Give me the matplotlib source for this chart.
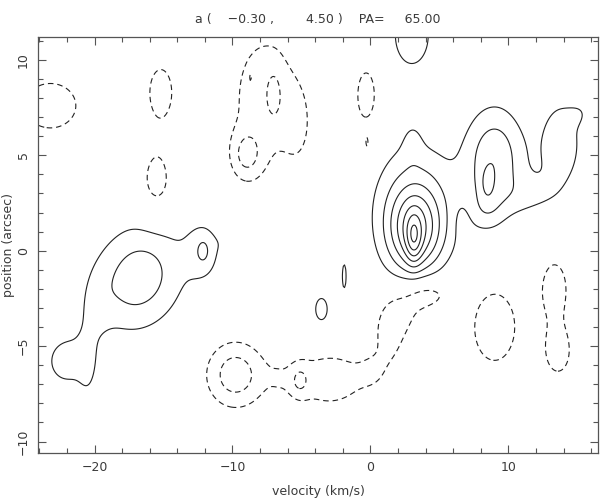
import numpy as np
import matplotlib
matplotlib.use("Agg")
import matplotlib.pyplot as plt
from matplotlib.ticker import MultipleLocator

# emission components of the position-velocity map (velocity km/s, position arcsec)
blob_v = [3.15, 3.2, 3.3, 3.05,
          9.0, 8.45, 8.4, 13.8, 15.0, 11.6, 6.6,
          3.0, -3.55, -1.9,
          -16.8, -20.0, -12.1, -12.1, -10.0, -22.0, -20.5]
blob_p = [0.6, 1.0, 2.1, 5.7,
          4.8, 3.5, 2.1, 5.6, 7.1, 2.9, 3.6,
          11.3, -3.1, -1.35,
          -1.4, -3.3, 0.0, 0.0, 0.35, -5.8, -6.2]
blob_sv = [0.4, 1.3, 2.1, 0.5,
           1.5, 0.4, 0.9, 1.2, 0.7, 1.6, 0.5,
           1.05, 0.6, 0.17,
           2.4, 0.8, 0.9, 0.35, 0.7, 1.2, 0.5]
blob_sp = [0.9, 1.5, 2.4, 0.8,
           1.9, 0.65, 0.8, 1.8, 0.4, 0.8, 0.5,
           1.3, 0.83, 0.76,
           1.9, 1.4, 1.1, 0.5, 0.5, 1.0, 1.3]
blob_pa = [0, 0, 0, 0,
           0, 0, 0, 0, 20, 0, 0,
           0, 0, 0,
           20, -10, 0, 0, -20, 0, 0]
blob_amp = [2.0, 3.2, 2.6, 0.6,
            2.8, 0.9, 0.9, 1.6, 0.6, 0.9, 0.3,
            1.9, 1.3, 1.3,
            2.6, 0.7, 1.4, 0.6, 0.8, 1.5, 0.8]

# absorption / negative components
hole_v = [-23.2, -15.2, -15.5,
          -7.0, -9.0, -7.6, -8.7, -5.2,
          -0.3, -0.25,
          -9.8, -3.0, -5.15, -6.6, 0.2, 1.5, 2.7, 4.3,
          9.0, 13.35, 13.6, 6.6]
hole_p = [7.6, 8.3, 3.6,
          8.2, 5.0, 8.0, 9.1, 6.5,
          8.1, 5.65,
          -6.5, -6.75, -6.8, -6.7, -6.3, -4.4, -3.0, -2.3,
          -4.0, -2.0, -5.3, 1.6]
hole_sv = [1.9, 0.95, 0.95,
           0.4, 0.8, 2.1, 0.12, 0.8,
           0.75, 0.1,
           1.5, 2.4, 0.5, 0.6, 0.8, 0.8, 1.8, 1.2,
           1.5, 0.9, 0.85, 0.5]
hole_sp = [1.2, 1.45, 1.45,
           0.9, 0.9, 3.0, 0.3, 1.6,
           1.5, 0.3,
           1.23, 1.3, 0.6, 0.9, 0.8, 1.5, 1.0, 0.5,
           1.8, 1.4, 1.1, 0.7]
hole_pa = [0, 0, 0,
           0, 0, 0, 0, 0,
           0, 0,
           0, 0, 0, 0, 0, 0, 30, 0,
           0, 0, 0, 0]
hole_amp = [-1.6, -1.4, -1.4,
            -1.1, -1.8, -1.5, -0.9, -0.7,
            -1.4, -1.1,
            -2.6, -1.45, -1.35, -0.35, -0.5, -0.9, -1.3, -1.1,
            -1.6, -1.5, -1.5, -0.4]

levels = [-2, -1, 1, 2, 3, 4, 5, 6, 7]
xlim = (-24.1, 16.5)
ylim = (-10.6, 11.2)


def field(V, P, vs, ps, svs, sps, pas, amps):
    out = np.zeros_like(V)
    for v0, p0, sv, sp, pa, a in zip(vs, ps, svs, sps, pas, amps):
        t = np.radians(pa)
        dv = V - v0
        dp = P - p0
        u = dv * np.cos(t) + dp * np.sin(t)
        w = -dv * np.sin(t) + dp * np.cos(t)
        out += a * np.exp(-0.5 * ((u / sv) ** 2 + (w / sp) ** 2))
    return out


vel = np.linspace(xlim[0] - 1, xlim[1] + 1, 500)
pos = np.linspace(ylim[0] - 1, ylim[1] + 1, 400)
V, P = np.meshgrid(vel, pos)
Z = field(V, P, blob_v, blob_p, blob_sv, blob_sp, blob_pa, blob_amp)
Z += field(V, P, hole_v, hole_p, hole_sv, hole_sp, hole_pa, hole_amp)

fig = plt.figure(figsize=(6.02, 4.99), dpi=100)
ax = fig.add_axes([38 / 602, 46 / 499, 560 / 602, 416 / 499])

txt = '#3a3a3a'
ax.contour(V, P, Z, levels=[l for l in levels if l < 0], colors='#222222',
           linewidths=0.8, linestyles=[(0, (5, 3.5))])
ax.contour(V, P, Z, levels=[l for l in levels if l > 0], colors='#222222',
           linewidths=0.8, linestyles='solid')

ax.set_xlim(*xlim)
ax.set_ylim(*ylim)
ax.xaxis.set_major_locator(MultipleLocator(10))
ax.xaxis.set_minor_locator(MultipleLocator(2))
ax.yaxis.set_major_locator(MultipleLocator(5))
ax.yaxis.set_minor_locator(MultipleLocator(1))
ax.tick_params(which='both', direction='in', top=True, right=True,
               colors='#555555', labelcolor=txt, labelsize=9, width=0.8)
ax.tick_params(which='major', length=6, pad=6)
ax.tick_params(which='minor', length=3.5)
for lab in ax.get_yticklabels():
    lab.set_rotation(90)
    lab.set_va('center')
for s in ax.spines.values():
    s.set_color('#555555')
    s.set_linewidth(0.9)

ax.set_xlabel('velocity (km/s)', color=txt, fontsize=9, va='center')
ax.set_ylabel('position (arcsec)', color=txt, fontsize=9, va='center')
ax.xaxis.set_label_coords(0.5, -39 / 416)
ax.yaxis.set_label_coords(-29 / 560, 0.5)
fig.text(318 / 602, 1 - 20 / 499, 'a (    \u22120.30 ,        4.50 )    PA=     65.00',
         ha='center', va='center', color=txt, fontsize=9)

fig.savefig('out.png', dpi=100)
